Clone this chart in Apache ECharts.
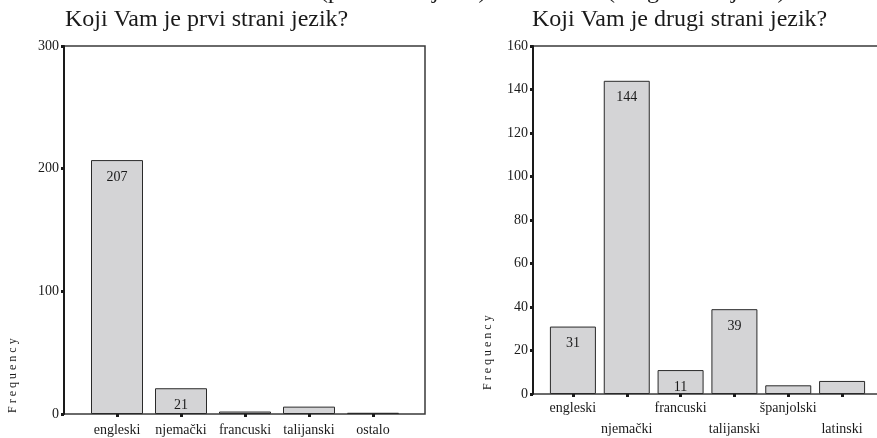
<!DOCTYPE html>
<html>
<head>
<meta charset="utf-8">
<script src="https://cdn.jsdelivr.net/npm/echarts@6/dist/echarts.min.js"></script>
<style>
  html, body { margin: 0; padding: 0; background: #fff; }
  #chart { width: 877px; height: 438px; }
</style>
</head>
<body>
<div id="chart"></div>
<script>
// prvi strani jezik
const firstLangs = ['engleski', 'njemački', 'francuski', 'talijanski', 'ostalo'];
const firstCounts = [207, 21, 2, 6, 1];
const firstLabels = ['207', '21', '', '', ''];
// drugi strani jezik
const secondLangs = ['engleski', 'njemački', 'francuski', 'talijanski', 'španjolski', 'latinski'];
const secondCounts = [31, 144, 11, 39, 4, 6];
const secondLabels = ['31', '144', '11', '39', '', ''];

const font = 'Liberation Serif';
const ink = '#1a1a1a';

const chart = echarts.init(document.getElementById('chart'));

// frame grid (axis + border) and inner grid (bars)
function frameY(grid, max, step) {
    return {
        type: 'value', gridIndex: grid, min: 0, max: max, interval: step,
        axisLine: { show: true, lineStyle: { color: ink, width: 2 } },
        axisTick: { show: true, length: 3, lineStyle: { color: ink, width: 3 } },
        axisLabel: { color: ink, fontFamily: font, fontSize: 14, margin: 5 },
        splitLine: { show: false }
    };
}
function hiddenY(grid, max) {
    return { type: 'value', gridIndex: grid, min: 0, max: max, show: false };
}
function barSeries(axis, data, labels, width) {
    return {
        type: 'bar', xAxisIndex: axis, yAxisIndex: axis, data: data, barWidth: width,
        itemStyle: { color: '#d4d4d6', borderColor: '#2a2a2a', borderWidth: 1 },
        label: {
            show: true, position: 'insideTop', distance: 10,
            color: ink, fontFamily: font, fontSize: 14,
            formatter: p => labels[p.dataIndex]
        },
        animation: false
    };
}
function catX(grid, cats, stagger) {
    return {
        type: 'category', gridIndex: grid, data: cats,
        axisLine: { show: false },
        axisTick: { show: true, alignWithLabel: true, interval: 0, length: 3, lineStyle: { color: ink, width: 3 } },
        axisLabel: {
            interval: 0, color: ink, fontFamily: font, fontSize: 14,
            margin: stagger ? 4 : 9, lineHeight: stagger ? 21 : 14,
            formatter: (v, i) => (stagger && i % 2 === 1) ? '\n' + v : v
        }
    };
}

const option = {
    backgroundColor: '#fff',
    grid: [
        { left: 64, top: 46, width: 361, height: 368, show: true, borderColor: '#3a3a3a', borderWidth: 1.5, outerBoundsMode: 'none' },
        { left: 85, top: 46, width: 320, height: 368, outerBoundsMode: 'none' },
        { left: 533, top: 46, width: 400, height: 348, show: true, borderColor: '#3a3a3a', borderWidth: 1.5, outerBoundsMode: 'none' },
        { left: 546, top: 46, width: 323, height: 348, outerBoundsMode: 'none' }
    ],
    xAxis: [
        { type: 'value', gridIndex: 0, show: false },
        catX(1, firstLangs, false),
        { type: 'value', gridIndex: 2, show: false },
        catX(3, secondLangs, true)
    ],
    yAxis: [
        frameY(0, 300, 100),
        hiddenY(1, 300),
        frameY(2, 160, 20),
        hiddenY(3, 160)
    ],
    series: [
        barSeries(1, firstCounts, firstLabels, 52),
        barSeries(3, secondCounts, secondLabels, 46)
    ],
    graphic: [
        { type: 'text', left: 65, top: 8, style: { text: 'Koji Vam je prvi strani jezik?', fontFamily: font, fontSize: 24, fill: ink } },
        { type: 'text', left: 532, top: 8, style: { text: 'Koji Vam je drugi strani jezik?', fontFamily: font, fontSize: 24, fill: ink } },
        // cut-off line above the titles
        { type: 'text', x: 320, y: -20, style: { text: '(prvi strani jezik)', fontFamily: font, fontSize: 24, fill: ink } },
        { type: 'text', x: 607, y: -20, style: { text: '(drugi strani jezik)', fontFamily: font, fontSize: 24, fill: ink } },
        { type: 'text', x: 13, y: 413, rotation: Math.PI / 2, style: { text: 'F r e q u e n c y', fontFamily: font, fontSize: 12, fill: ink, align: 'left', verticalAlign: 'middle' } },
        { type: 'text', x: 488, y: 390, rotation: Math.PI / 2, style: { text: 'F r e q u e n c y', fontFamily: font, fontSize: 12, fill: ink, align: 'left', verticalAlign: 'middle' } }
    ]
};
chart.setOption(option);
</script>
</body>
</html>
